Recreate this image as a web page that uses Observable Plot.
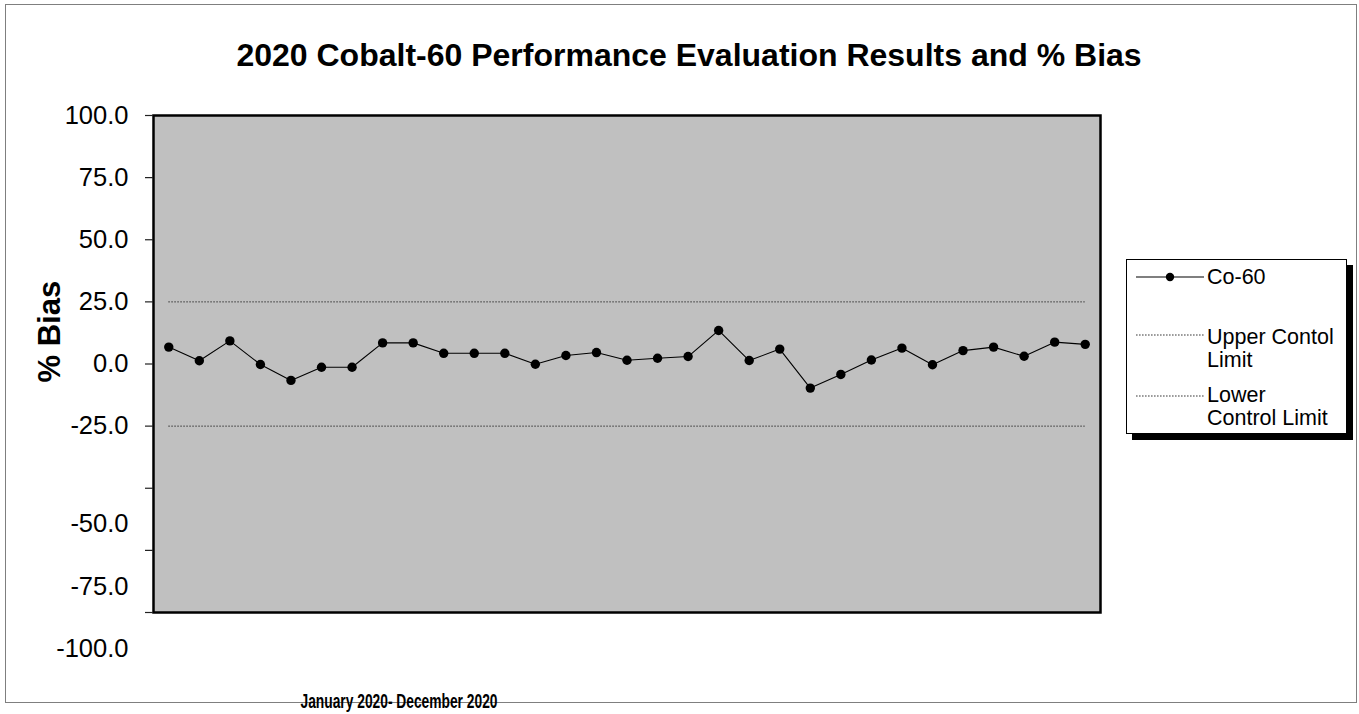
<!DOCTYPE html>
<html>
<head>
<meta charset="utf-8">
<script src="https://cdn.jsdelivr.net/npm/d3@7"></script>
<script src="https://cdn.jsdelivr.net/npm/@observablehq/plot@0.6"></script>
<style>
  html, body { margin: 0; padding: 0; background: #fff; }
  #chart { position: relative; width: 1359px; height: 714px; font-family: Arial, "Liberation Sans", sans-serif; }
  #outer { position: absolute; left: 5px; top: 4px; width: 1350px; height: 697px; border: 1.5px solid #7f7f7f; }
  #plot { position: absolute; left: 0; top: 0; }
  #legend { position: absolute; left: 1126px; top: 259px; width: 221px; height: 175px; box-sizing: border-box;
            background: #fff; border: 1px solid #000; box-shadow: 6px 6px 0 #000; font-size: 21.5px; color: #000; }
  #legend .sw { position: absolute; left: 9px; width: 68px; height: 12px; }
  #legend .lab { position: absolute; left: 80px; line-height: 22.5px; white-space: nowrap; }
</style>
</head>
<body>
<div id="chart">
  <div id="outer"></div>
  <div id="plot"></div>
  <div id="legend"></div>
</div>
<script>
// Co-60 performance evaluation samples, January–December 2020
const samples = d3.range(1, 32);
const bias = [6.8, 1.3, 9.3, -0.2, -6.6, -1.3, -1.3, 8.5, 8.5, 4.3, 4.3, 4.3, -0.1, 3.4, 4.6, 1.5,
              2.3, 3.0, 13.5, 1.4, 6.0, -9.7, -4.2, 1.6, 6.4, -0.3, 5.4, 6.8, 3.1, 8.8, 7.9];
const upperLimit = 25;
const lowerLimit = -25;

// Axis ticks; labels below -25 sit lower than their ticks
const yTicks = [100, 75, 50, 25, 0, -25, -50, -75, -100];
const yLabelsAtTick = [100, 75, 50, 25, 0, -25];
const yLabelsShifted = [-50, -75, -100];

const title = "2020 Cobalt-60 Performance Evaluation Results and % Bias";
const yTitle = "% Bias";
const xTitle = "January 2020- December 2020";

const points = samples.map((s, i) => ({sample: s, bias: bias[i]}));
const font = "Arial, 'Liberation Sans', sans-serif";

const chart = Plot.plot({
  width: 1359,
  height: 714,
  marginLeft: 153,
  marginRight: 259,
  marginTop: 115,
  marginBottom: 102,
  style: {background: "transparent", fontFamily: font, color: "#000", overflow: "visible"},
  x: {type: "point", domain: samples, padding: 0.5, round: false, axis: null},
  y: {domain: [-100, 100], axis: null},
  marks: [
    Plot.frame({fill: "#c0c0c0", stroke: "#000", strokeWidth: 2.5}),
    Plot.ruleY([upperLimit, lowerLimit], {
      x1: () => samples[0], x2: () => samples[samples.length - 1],
      stroke: "#3a3a3a", strokeWidth: 1, strokeDasharray: "1.6,1.4"
    }),
    Plot.line(points, {x: "sample", y: "bias", stroke: "#000", strokeWidth: 1.1}),
    Plot.dot(points, {x: "sample", y: "bias", r: 4.7, fill: "#000", stroke: "none"}),
    Plot.tickY(yTicks, {y: d => d, stroke: "#222", strokeWidth: 1.2}),
    Plot.text(yLabelsAtTick, {y: d => d, text: d => d.toFixed(1), frameAnchor: "left",
      textAnchor: "end", dx: -25, fontSize: 25.5}),
    Plot.text(yLabelsShifted, {y: d => d, text: d => d.toFixed(1), frameAnchor: "left",
      textAnchor: "end", dx: -25, dy: 36, fontSize: 25.5}),
    Plot.text([yTitle], {frameAnchor: "left", rotate: -90, dx: -103.5, dy: 18.5,
      fontSize: 31, fontWeight: "bold"}),
    Plot.text([title], {frameAnchor: "top", dx: 62, dy: -60, lineAnchor: "middle",
      fontSize: 32, fontWeight: "bold"}),
    Plot.text([xTitle], {frameAnchor: "bottom", dx: -228, dy: 89, lineAnchor: "middle",
      fontSize: 20, fontWeight: "bold", className: "xtitle"})
  ]
});
document.getElementById("plot").appendChild(chart);

// Tick marks: short strokes outside the left edge of the plot area
chart.querySelectorAll('g[aria-label="tick"] line').forEach(l => {
  l.setAttribute("x1", "145");
  l.setAttribute("x2", "153");
});

// The period label is set in a condensed width
const xt = chart.querySelector(".xtitle text") || chart.querySelector('g.xtitle text');
if (xt) { xt.setAttribute("textLength", "197"); xt.setAttribute("lengthAdjust", "spacingAndGlyphs"); }

// Legend
const legend = d3.select("#legend");
const items = [
  {label: "Co-60", lineY: 17, textTop: 6, dot: true, dash: null},
  {label: "Upper Contol<br>Limit", lineY: 75, textTop: 66, dot: false, dash: "1.6,1.4"},
  {label: "Lower<br>Control Limit", lineY: 136, textTop: 124, dot: false, dash: "1.6,1.4"}
];
items.forEach(it => {
  const svg = legend.append("svg").attr("class", "sw")
    .style("top", (it.lineY - 6) + "px").attr("width", 68).attr("height", 12);
  svg.append("line").attr("x1", 0).attr("x2", 68).attr("y1", 6).attr("y2", 6)
    .attr("stroke", it.dot ? "#000" : "#3a3a3a").attr("stroke-width", 1.1)
    .attr("stroke-dasharray", it.dash);
  if (it.dot) svg.append("circle").attr("cx", 34).attr("cy", 6).attr("r", 4.2).attr("fill", "#000");
  legend.append("div").attr("class", "lab").style("top", it.textTop + "px").html(it.label);
});
</script>
</body>
</html>
